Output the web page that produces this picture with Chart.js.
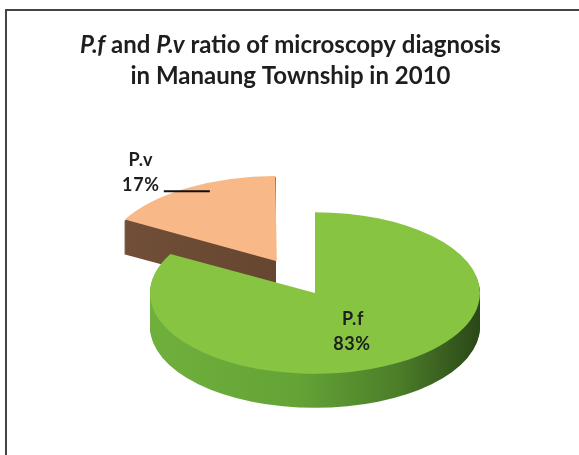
<!DOCTYPE html>
<html>
<head>
<meta charset="utf-8">
<script src="https://cdn.jsdelivr.net/npm/chart.js@4.4.1/dist/chart.umd.min.js"></script>
<style>
  html, body { margin: 0; padding: 0; background: #fff; }
</style>
</head>
<body>
<canvas id="pieChart" width="579" height="455"></canvas>
<script>
// chart data
const labels = ['P.f', 'P.v'];
const values = [83, 17];
const titleLines = ['P.f and P.v ratio of microscopy diagnosis', 'in Manaung Township in 2010'];
const italicWords = ['P.f', 'P.v'];

// how the flat pie is tilted into the 3d look
const PIE_X = 315;      // centre of the top face on the page
const PIE_Y = 293;
const TILT = 0.49;      // vertical squash of the top face
const DEPTH = 34;       // thickness of the side wall, px
const RADIUS = 165;
const EXPLODE = 300;    // chart.js offset for the pulled out slice

const sideColors = [
    [[0, '#6fb03d'], [0.45, '#64a336'], [0.75, '#4c7e29'], [1, '#2b4718']],
    [[0, '#72503a'], [1, '#5a3c26']]
];

const toScreen = (chart, px, py) => {
    const el = chart.getDatasetMeta(0).data[0];
    return [PIE_X + (px - el.x), PIE_Y + (py - el.y) * TILT];
};

// white page and the frame lines
const frame = {
    id: 'frame',
    beforeDraw(chart) {
        const c = chart.ctx;
        c.save();
        c.fillStyle = '#fff';
        c.fillRect(0, 0, chart.width, chart.height);
        c.strokeStyle = '#444';
        c.lineWidth = 2;
        c.beginPath();
        c.moveTo(6, chart.height);
        c.lineTo(6, 10);
        c.lineTo(chart.width, 10);
        c.stroke();
        c.restore();
    }
};

// squash the pie and draw the side walls under the slices
const tilt3d = {
    id: 'tilt3d',
    beforeDatasetsDraw(chart) {
        const c = chart.ctx;
        const arcs = chart.getDatasetMeta(0).data;
        const cx = arcs[0].x, cy = arcs[0].y;
        c.save();
        c.translate(PIE_X, PIE_Y);
        c.scale(1, TILT);
        c.translate(-cx, -cy);
        // back slice first so the front one covers it
        [1, 0].forEach(i => {
            const el = arcs[i];
            const off = (el.options.offset || 0) / 4;
            const mid = (el.startAngle + el.endAngle) / 2;
            const fix = 1 - Math.sin(Math.min(Math.PI, el.circumference));
            const ox = cx + Math.cos(mid) * off;
            const oy = cy + Math.sin(mid) * off;
            const r = el.outerRadius + off * fix;
            const grad = c.createLinearGradient(ox - r, 0, ox + r, 0);
            sideColors[i].forEach(([p, col]) => grad.addColorStop(p, col));
            c.save();
            if (i === 1) {
                // its right cut face points straight at us edge-on, keep it hidden
                c.beginPath();
                c.rect(ox - r - 10, oy - r * 3, r + 9, r * 6);
                c.clip();
            }
            c.fillStyle = grad;
            for (let d = DEPTH; d > 0; d--) {
                const dy = d / TILT;
                c.beginPath();
                c.moveTo(ox, oy + dy);
                c.arc(ox, oy + dy, r, el.startAngle, el.endAngle);
                c.closePath();
                c.fill();
            }
            c.restore();
        });
    },
    afterDatasetsDraw(chart) {
        chart.ctx.restore();
    }
};

// P.f / P.v labels
const sliceLabels = {
    id: 'sliceLabels',
    afterDraw(chart) {
        const c = chart.ctx;
        const arcs = chart.getDatasetMeta(0).data;
        const total = values.reduce((a, b) => a + b, 0);
        c.save();
        c.fillStyle = '#1e1e1e';
        c.strokeStyle = '#111';
        c.font = 'bold 18px Lato';
        c.letterSpacing = '0.6px';
        c.textAlign = 'center';
        c.textBaseline = 'alphabetic';

        // big slice: label inside
        const g = arcs[0];
        const gm = (g.startAngle + g.endAngle) / 2;
        const [gx, gy] = toScreen(chart, g.x + Math.cos(gm) * g.outerRadius * 0.5, g.y + Math.sin(gm) * g.outerRadius * 0.5);
        c.fillText(labels[0], gx - 4, gy - 3);
        c.fillText(Math.round(values[0] / total * 100) + '%', gx - 5, gy + 22);

        // pulled out slice: label outside with a leader line
        const o = arcs[1];
        const off = (o.options.offset || 0) / 4;
        const om = (o.startAngle + o.endAngle) / 2;
        const a = o.startAngle + (o.endAngle - o.startAngle) * 0.6;
        const rr = o.outerRadius * 0.98;
        const [lx, ly] = toScreen(chart, o.x + Math.cos(om) * off + Math.cos(a) * rr, o.y + Math.sin(om) * off + Math.sin(a) * rr);
        c.lineWidth = 2;
        c.beginPath();
        c.moveTo(lx, ly + 2);
        c.lineTo(lx - 46, ly + 2);
        c.stroke();
        c.fillText(Math.round(values[1] / total * 100) + '%', lx - 69, ly + 2);
        c.fillText(labels[1], lx - 69, ly - 23);
        c.restore();
    }
};

// title with the italic species names
const richTitle = {
    id: 'richTitle',
    afterDraw(chart) {
        const c = chart.ctx;
        const size = 24;
        const fontFor = (it) => (it ? 'italic ' : '') + 'bold ' + size + 'px Lato';
        const split = (line) => line.split(/(P\.f|P\.v)/).filter(s => s.length).map(s => [s, italicWords.includes(s)]);
        const widthOf = (parts) => parts.reduce((w, [s, it]) => { c.font = fontFor(it); return w + c.measureText(s).width; }, 0);
        c.save();
        c.fillStyle = '#1e1e1e';
        c.textBaseline = 'alphabetic';
        const first = split(titleLines[0]);
        const sx = Math.min(1, 435 / widthOf(first));
        titleLines.forEach((line, li) => {
            const parts = split(line);
            const w = widthOf(parts) * sx;
            c.save();
            c.translate(290.5 - w / 2, 53 + li * 31);
            c.scale(sx, 1);
            let x = 0;
            parts.forEach(([s, it]) => {
                c.font = fontFor(it);
                c.fillText(s, x, 0);
                x += c.measureText(s).width;
            });
            c.restore();
        });
        c.restore();
    }
};

const ctx = document.getElementById('pieChart');

new Chart(ctx, {
    type: 'pie',
    data: {
        labels: labels,
        datasets: [{
            data: values,
            backgroundColor: ['#87c442', '#f8b887'],
            borderWidth: 0,
            offset: [0, EXPLODE],
            hoverOffset: 0,
            radius: RADIUS,
            clip: false
        }]
    },
    options: {
        responsive: false,
        animation: false,
        events: [],
        plugins: {
            legend: { display: false },
            tooltip: { enabled: false },
            title: { display: false }
        }
    },
    plugins: [frame, tilt3d, sliceLabels, richTitle]
});
</script>
</body>
</html>
